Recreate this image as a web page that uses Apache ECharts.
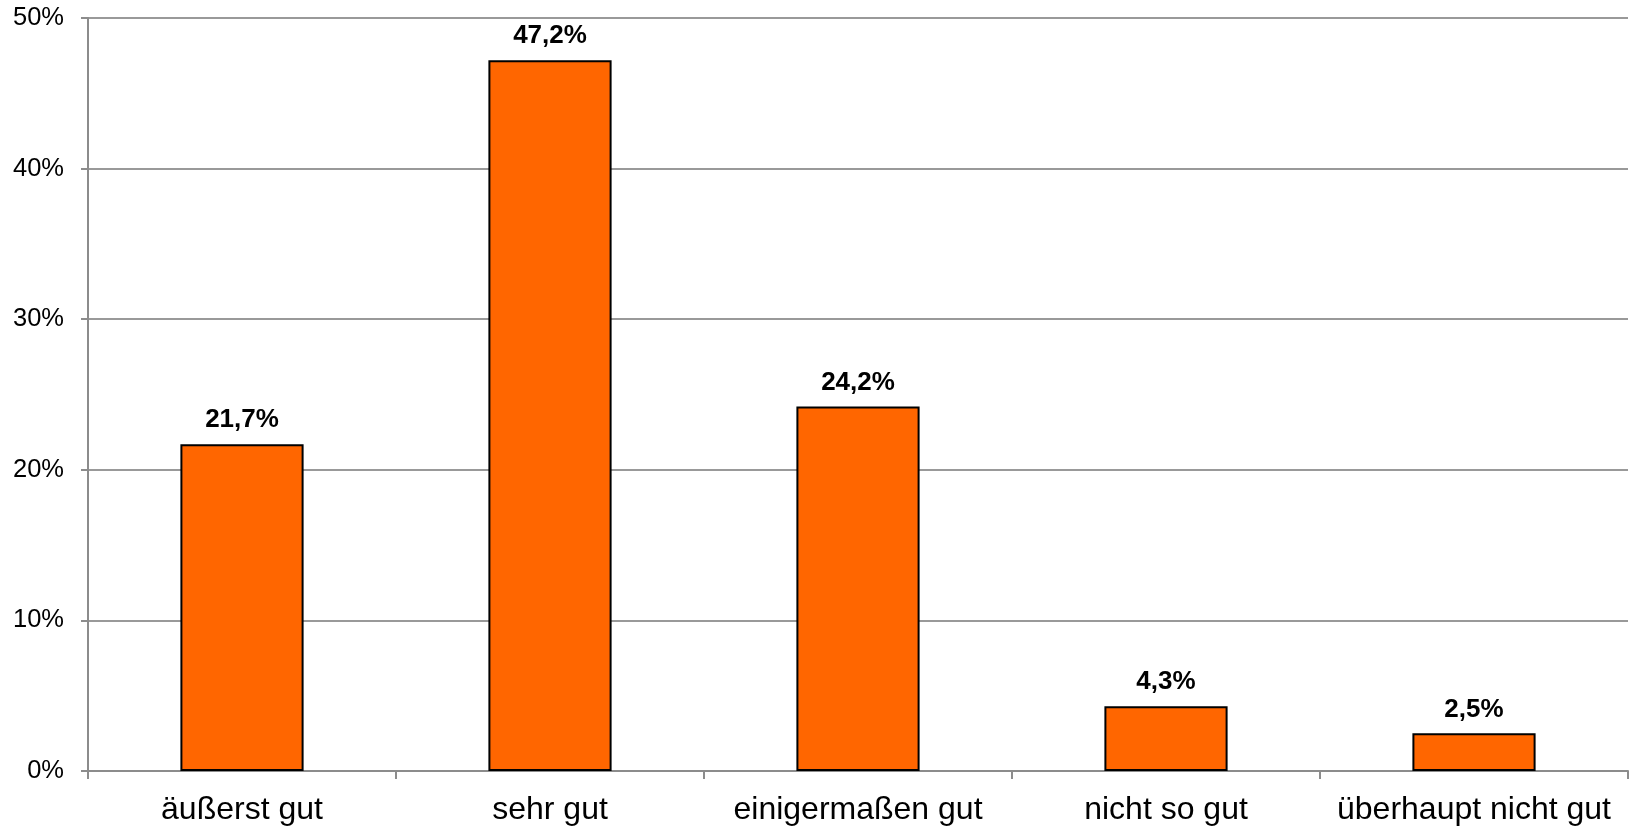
<!DOCTYPE html>
<html>
<head>
<meta charset="utf-8">
<script src="https://cdn.jsdelivr.net/npm/echarts@6/dist/echarts.min.js"></script>
<style>
  html, body { margin: 0; padding: 0; background: #ffffff; }
  #chart { width: 1629px; height: 827px; }
</style>
</head>
<body>
<div id="chart"></div>
<script>
// Antwortkategorien und Anteile (in Prozent)
const categories = ['äußerst gut', 'sehr gut', 'einigermaßen gut', 'nicht so gut', 'überhaupt nicht gut'];
const shares = [21.7, 47.2, 24.2, 4.3, 2.5];
// Y-Achse: 0 % bis 50 % in Zehnerschritten
const yMin = 0;
const yMax = 50;
const yStep = 10;

const fontFamily = '"Liberation Sans", Arial, sans-serif';
const fmtPercent = v => v.toFixed(1).replace('.', ',') + '%';

const chart = echarts.init(document.getElementById('chart'));
chart.setOption({
  animation: false,
  backgroundColor: '#ffffff',
  grid: { left: 88, right: 1, top: 18, bottom: 56, containLabel: false },
  xAxis: {
    type: 'category',
    data: categories,
    axisLine: { show: true, lineStyle: { color: '#8c8c8c', width: 2 } },
    axisTick: { show: true, length: 8, alignWithLabel: false, lineStyle: { color: '#8c8c8c', width: 2 } },
    axisLabel: { color: '#000000', fontFamily, fontSize: 32, margin: 23, interval: 0 },
    splitLine: { show: false }
  },
  yAxis: {
    type: 'value',
    min: yMin,
    max: yMax,
    interval: yStep,
    axisLine: { show: true, lineStyle: { color: '#8c8c8c', width: 2 } },
    axisTick: { show: true, length: 7, lineStyle: { color: '#8c8c8c', width: 2 } },
    axisLabel: { color: '#000000', fontFamily, fontSize: 25.5, margin: 24, formatter: '{value}%' },
    splitLine: { show: true, lineStyle: { color: '#999999', width: 2 } }
  },
  series: [{
    type: 'bar',
    data: shares,
    barWidth: '40%',
    itemStyle: { color: '#ff6600', borderColor: '#000000', borderWidth: 2 },
    label: {
      show: true,
      position: 'top',
      distance: 11,
      color: '#000000',
      fontFamily,
      fontSize: 26,
      fontWeight: 'bold',
      formatter: p => fmtPercent(p.value)
    }
  }]
});
</script>
</body>
</html>
